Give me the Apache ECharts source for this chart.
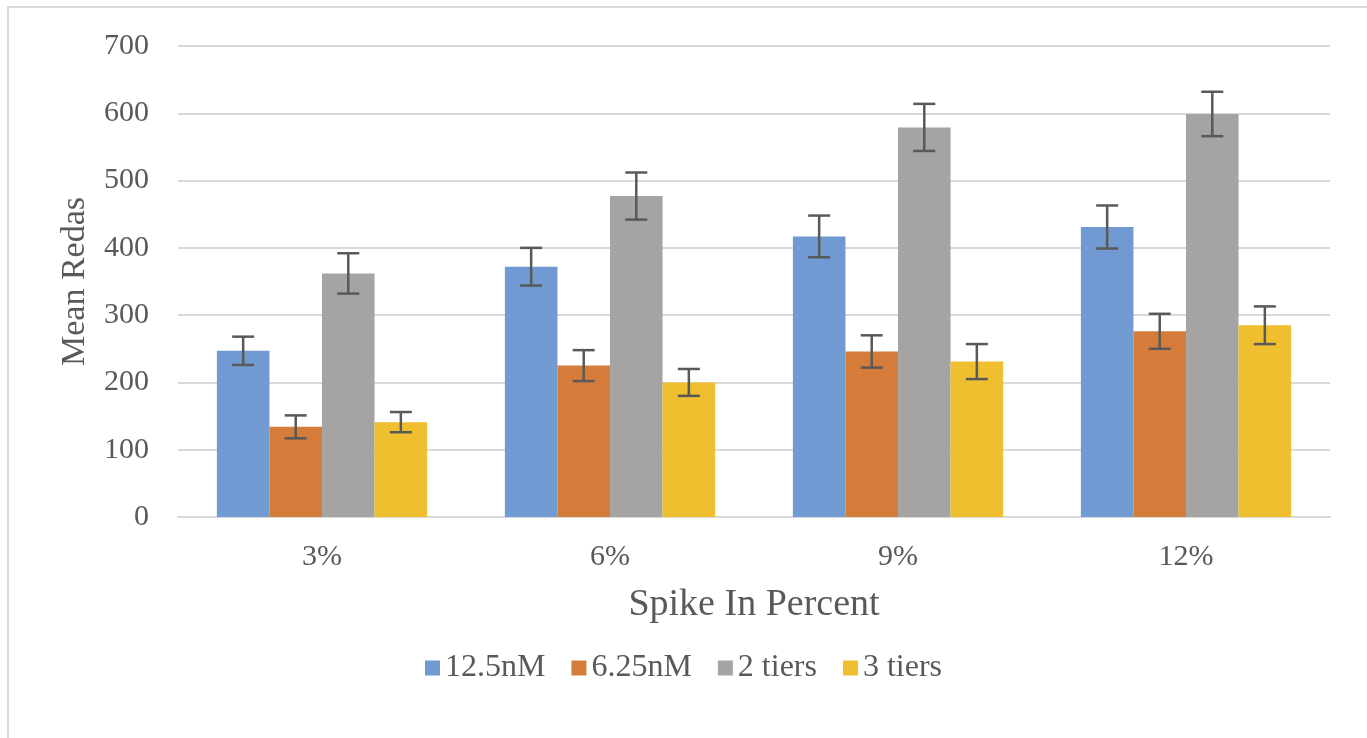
<!DOCTYPE html>
<html>
<head>
<meta charset="utf-8">
<script src="https://cdn.jsdelivr.net/npm/echarts@6/dist/echarts.min.js"></script>
<style>
  html, body { margin: 0; padding: 0; background: #fff; }
  #chart { width: 1367px; height: 738px; }
</style>
</head>
<body>
<div id="chart"></div>
<script>
// data
var categories = ['3%', '6%', '9%', '12%'];
var seriesNames = ['12.5nM', '6.25nM', '2 tiers', '3 tiers'];
var vals125 = [247, 372, 417, 431];
var vals625 = [134, 225, 246, 276];
var valsTwo = [362, 477, 579, 599];
var valsThree = [141, 200, 231, 285];
var err125 = [21, 28, 31, 32];
var err625 = [17, 23, 24, 26];
var errTwo = [30, 35, 35, 33];
var errThree = [15, 20, 26, 28];
var yTicks = [0, 100, 200, 300, 400, 500, 600, 700];

var colors = ['#709AD1', '#D57C3A', '#A4A4A4', '#EFBF2F'];
var allVals = [vals125, vals625, valsTwo, valsThree];
var allErrs = [err125, err625, errTwo, errThree];

var myChart = echarts.init(document.getElementById('chart'));
var font = '"Liberation Serif", "DejaVu Serif", serif';

var series = [];
for (var s = 0; s < 4; s++) {
  series.push({
    name: seriesNames[s],
    type: 'bar',
    data: allVals[s],
    barGap: '0%',
    barCategoryGap: '27%',
    itemStyle: { color: colors[s] },
    z: 2
  });
}

// error bars, one custom series per bar series, offset into its slot
for (var s = 0; s < 4; s++) {
  (function (idx) {
    var pts = [];
    for (var i = 0; i < categories.length; i++) {
      pts.push([i, allVals[idx][i] - allErrs[idx][i], allVals[idx][i] + allErrs[idx][i]]);
    }
    series.push({
      type: 'custom',
      name: seriesNames[idx] + ' err',
      data: pts,
      z: 5,
      silent: true,
      renderItem: function (params, api) {
        var lo = api.coord([api.value(0), api.value(1)]);
        var hi = api.coord([api.value(0), api.value(2)]);
        var band = api.size([1, 0])[0];
        var barW = band * 0.73 / 4;
        var x = lo[0] - band * 0.73 / 2 + barW * (idx + 0.5);
        var cap = 11;
        var st = { stroke: '#595959', lineWidth: 2.5 };
        return {
          type: 'group',
          children: [
            { type: 'line', shape: { x1: x, y1: lo[1], x2: x, y2: hi[1] }, style: st },
            { type: 'line', shape: { x1: x - cap, y1: lo[1], x2: x + cap, y2: lo[1] }, style: st },
            { type: 'line', shape: { x1: x - cap, y1: hi[1], x2: x + cap, y2: hi[1] }, style: st }
          ]
        };
      }
    });
  })(s);
}

var option = {
  animation: false,
  backgroundColor: '#fff',
  textStyle: { fontFamily: font },
  graphic: [{
    type: 'rect',
    shape: { x: 8, y: 7, width: 1420, height: 800 },
    style: { fill: 'none', stroke: '#D9D9D9', lineWidth: 2 },
    silent: true
  }],
  grid: { left: 178, right: 37, top: 46, bottom: 221 },
  legend: {
    data: seriesNames,
    top: 647,
    left: 'center',
    itemWidth: 15,
    itemHeight: 15,
    itemGap: 26,
    icon: 'rect',
    textStyle: { fontFamily: font, fontSize: 32, color: '#595959' }
  },
  xAxis: {
    type: 'category',
    data: categories,
    name: 'Spike In Percent',
    nameLocation: 'middle',
    nameGap: 69,
    nameTextStyle: { fontFamily: font, fontSize: 38, color: '#595959' },
    axisLine: { lineStyle: { color: '#D9D9D9', width: 2 } },
    axisTick: { show: false },
    axisLabel: { fontFamily: font, fontSize: 30, color: '#595959', margin: 25 }
  },
  yAxis: {
    type: 'value',
    min: yTicks[0],
    max: yTicks[yTicks.length - 1],
    interval: 100,
    name: 'Mean Redas',
    nameLocation: 'middle',
    nameGap: 86,
    nameTextStyle: { fontFamily: font, fontSize: 34, color: '#595959' },
    axisLine: { show: false },
    axisTick: { show: false },
    splitLine: { lineStyle: { color: '#D9D9D9', width: 2 } },
    axisLabel: { fontFamily: font, fontSize: 30, color: '#595959', margin: 29 }
  },
  series: series
};

myChart.setOption(option);
window.onresize = myChart.resize;
</script>
</body>
</html>
